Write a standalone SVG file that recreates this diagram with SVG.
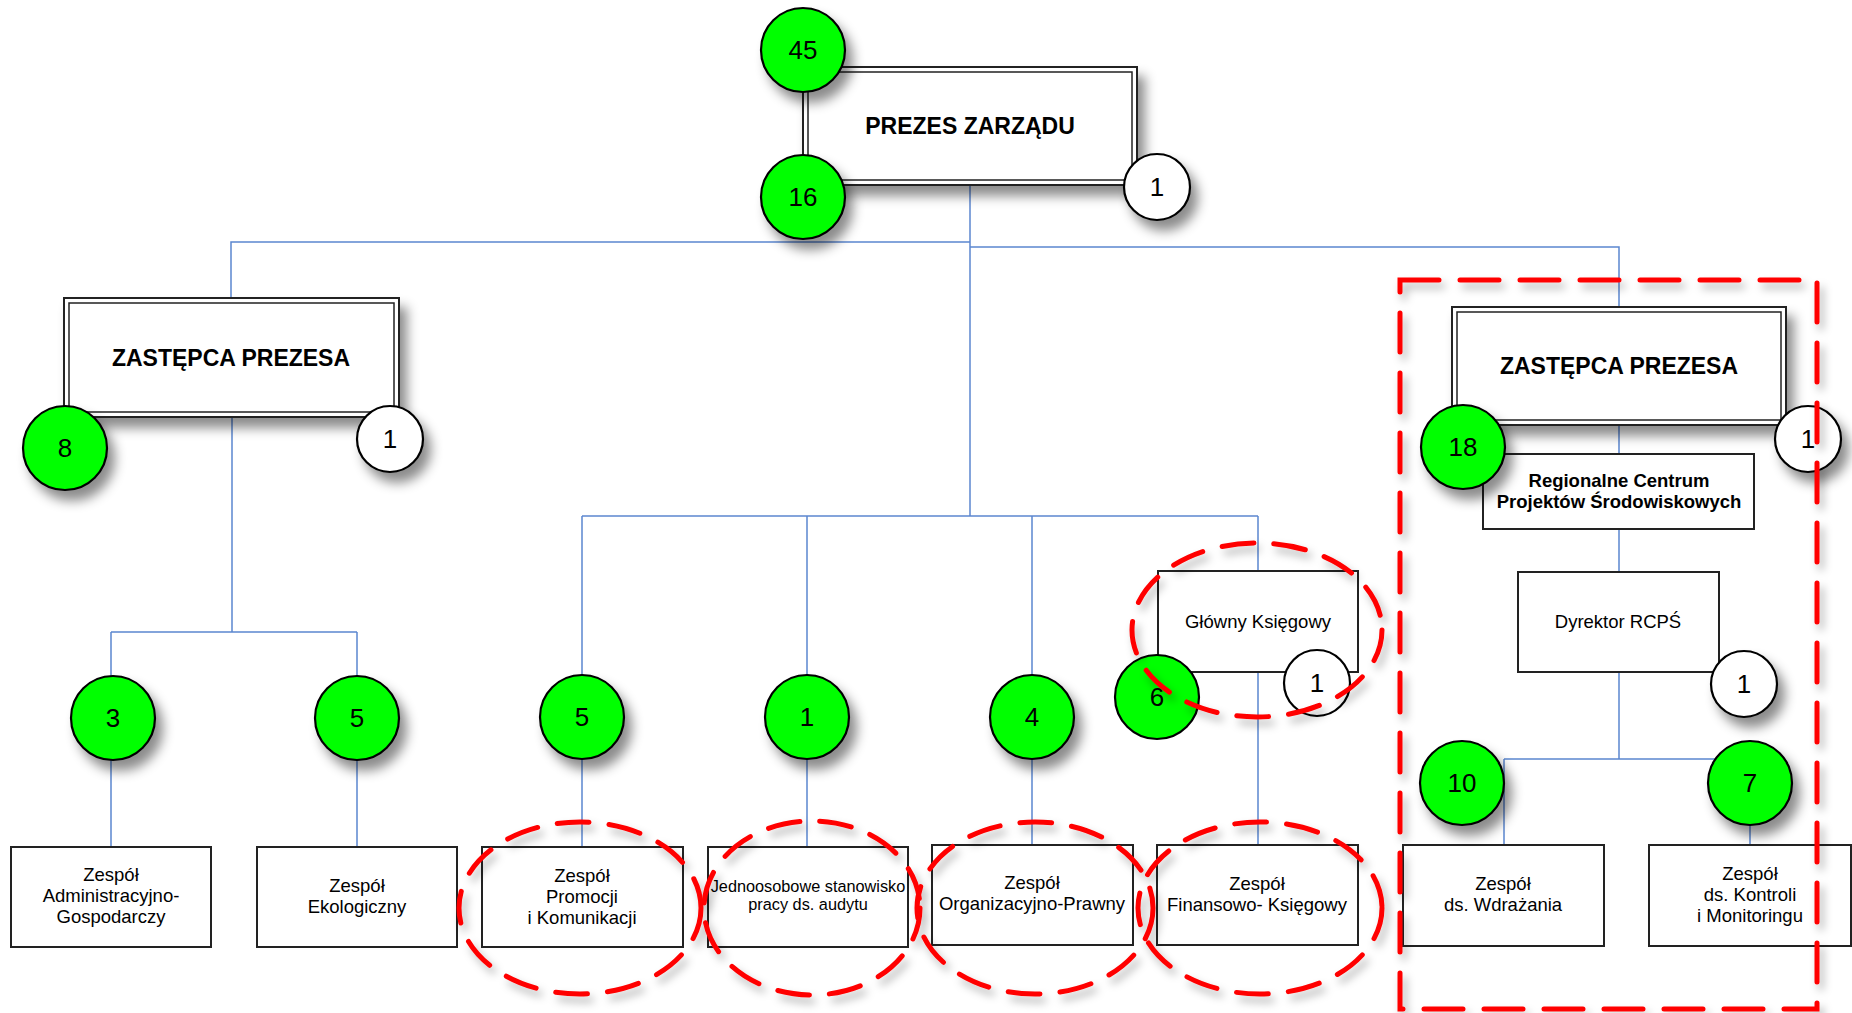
<svg xmlns="http://www.w3.org/2000/svg" width="1852" height="1013" viewBox="0 0 1852 1013">
<defs>
<filter id="sh" x="-30%" y="-30%" width="170%" height="170%">
<feDropShadow dx="7" dy="10" stdDeviation="6" flood-color="#000" flood-opacity="0.45"/>
</filter>
<filter id="shs" x="-30%" y="-30%" width="170%" height="170%">
<feDropShadow dx="4" dy="6" stdDeviation="4" flood-color="#000" flood-opacity="0.3"/>
</filter>
</defs>
<style>
.bg{fill:#fff}
.c{fill:none;stroke:#5b86cf;stroke-width:1.5}
.ob{fill:#fff;stroke:#222;stroke-width:2}
.ib{fill:none;stroke:#222;stroke-width:1.5}
.sb{fill:#fff;stroke:#222;stroke-width:2}
.g{fill:#00ff00;stroke:#000;stroke-width:2.2}
.w{fill:#fff;stroke:#000;stroke-width:2.2}
.num{font-family:"Liberation Sans",Arial,sans-serif;font-size:26px;text-anchor:middle;fill:#000}
.tb{font-family:"Liberation Sans",Arial,sans-serif;font-size:23px;font-weight:bold;text-anchor:middle;fill:#000}
.tbs{font-family:"Liberation Sans",Arial,sans-serif;font-size:18.5px;font-weight:bold;text-anchor:middle;fill:#000}
.t{font-family:"Liberation Sans",Arial,sans-serif;font-size:18.5px;text-anchor:middle;fill:#000}
.ts{font-family:"Liberation Sans",Arial,sans-serif;font-size:16.3px;text-anchor:middle;fill:#000}
.red{fill:none;stroke:#ff0000;stroke-width:5;stroke-linecap:round}
.re{stroke-dasharray:32 20}
.rr{stroke-dasharray:39 21}
</style>
<rect class="bg" x="0" y="0" width="1852" height="1013"/>

<g id="connectors">
<path class="c" d="M970 185V516"/>
<path class="c" d="M970 242H231V298"/>
<path class="c" d="M970 247H1619V307"/>
<path class="c" d="M582 516H1258"/>
<path class="c" d="M582 516V847M807 516V847M1032 516V845"/>
<path class="c" d="M1258 516V571M1258 672V845"/>
<path class="c" d="M232 417V632M111 632H357M111 632V847M357 632V847"/>
<path class="c" d="M1619 425V454M1619 529V572M1619 672V759M1504 759H1750M1504 759V845M1750 759V845"/>
</g>

<g id="node-prezes">
<g filter="url(#sh)"><rect class="ob" x="803" y="67" width="334" height="118"/></g>
<rect class="ib" x="808" y="72" width="324" height="108"/>
<text class="tb" x="970" y="134">PREZES ZARZĄDU</text>
</g>

<g id="node-zastepca-left">
<g filter="url(#sh)"><rect class="ob" x="64" y="298" width="335" height="119"/></g>
<rect class="ib" x="69" y="303" width="325" height="109"/>
<text class="tb" x="231" y="366">ZASTĘPCA PREZESA</text>
</g>

<g id="node-zastepca-right">
<g filter="url(#sh)"><rect class="ob" x="1452" y="307" width="334" height="118"/></g>
<rect class="ib" x="1457" y="312" width="324" height="108"/>
<text class="tb" x="1619" y="374">ZASTĘPCA PREZESA</text>
</g>

<g id="node-rcps">
<rect class="sb" x="1483" y="454" width="271" height="75"/>
<text class="tbs" x="1619" y="487">Regionalne Centrum</text>
<text class="tbs" x="1619" y="508">Projektów Środowiskowych</text>
</g>

<g id="node-glowny">
<rect class="sb" x="1158" y="571" width="200" height="101"/>
<text class="t" x="1258" y="628">Główny Księgowy</text>
</g>

<g id="node-dyrektor">
<rect class="sb" x="1518" y="572" width="201" height="100"/>
<text class="t" x="1618" y="628">Dyrektor RCPŚ</text>
</g>

<g id="node-admin">
<rect class="sb" x="11" y="847" width="200" height="100"/>
<text class="t" x="111" y="881">Zespół</text>
<text class="t" x="111" y="902">Administracyjno-</text>
<text class="t" x="111" y="923">Gospodarczy</text>
</g>

<g id="node-eko">
<rect class="sb" x="257" y="847" width="200" height="100"/>
<text class="t" x="357" y="892">Zespół</text>
<text class="t" x="357" y="913">Ekologiczny</text>
</g>

<g id="node-promocji">
<rect class="sb" x="482" y="847" width="201" height="100"/>
<text class="t" x="582" y="882">Zespół</text>
<text class="t" x="582" y="903">Promocji</text>
<text class="t" x="582" y="924">i Komunikacji</text>
</g>

<g id="node-audyt">
<rect class="sb" x="708" y="847" width="200" height="100"/>
<text class="ts" x="808" y="892">Jednoosobowe stanowisko</text>
<text class="ts" x="808" y="910">pracy ds. audytu</text>
</g>

<g id="node-organizacyjno">
<rect class="sb" x="932" y="845" width="201" height="100"/>
<text class="t" x="1032" y="889">Zespół</text>
<text class="t" x="1032" y="910">Organizacyjno-Prawny</text>
</g>

<g id="node-finansowo">
<rect class="sb" x="1157" y="845" width="201" height="100"/>
<text class="t" x="1257" y="890">Zespół</text>
<text class="t" x="1257" y="911">Finansowo- Księgowy</text>
</g>

<g id="node-wdrazania">
<rect class="sb" x="1403" y="845" width="201" height="101"/>
<text class="t" x="1503" y="890">Zespół</text>
<text class="t" x="1503" y="911">ds. Wdrażania</text>
</g>

<g id="node-kontroli">
<rect class="sb" x="1649" y="845" width="202" height="101"/>
<text class="t" x="1750" y="880">Zespół</text>
<text class="t" x="1750" y="901">ds. Kontroli</text>
<text class="t" x="1750" y="922">i Monitoringu</text>
</g>

<g id="badges">
<g id="b45"><circle class="g" cx="803" cy="50" r="42" filter="url(#sh)"/><text class="num" x="803" y="59">45</text></g>
<g id="b16"><circle class="g" cx="803" cy="197" r="42" filter="url(#sh)"/><text class="num" x="803" y="206">16</text></g>
<g id="b1a"><circle class="w" cx="1157" cy="187" r="33" filter="url(#sh)"/><text class="num" x="1157" y="196">1</text></g>
<g id="b8"><circle class="g" cx="65" cy="448" r="42" filter="url(#sh)"/><text class="num" x="65" y="457">8</text></g>
<g id="b1b"><circle class="w" cx="390" cy="439" r="33" filter="url(#sh)"/><text class="num" x="390" y="448">1</text></g>
<g id="b18"><circle class="g" cx="1463" cy="447" r="42" filter="url(#sh)"/><text class="num" x="1463" y="456">18</text></g>
<g id="b1c"><circle class="w" cx="1808" cy="439" r="33" filter="url(#sh)"/><text class="num" x="1808" y="448">1</text></g>
<g id="b3"><circle class="g" cx="113" cy="718" r="42" filter="url(#sh)"/><text class="num" x="113" y="727">3</text></g>
<g id="b5a"><circle class="g" cx="357" cy="718" r="42" filter="url(#sh)"/><text class="num" x="357" y="727">5</text></g>
<g id="b5b"><circle class="g" cx="582" cy="717" r="42" filter="url(#sh)"/><text class="num" x="582" y="726">5</text></g>
<g id="b1d"><circle class="g" cx="807" cy="717" r="42" filter="url(#sh)"/><text class="num" x="807" y="726">1</text></g>
<g id="b4"><circle class="g" cx="1032" cy="717" r="42" filter="url(#sh)"/><text class="num" x="1032" y="726">4</text></g>
<g id="b6"><circle class="g" cx="1157" cy="697" r="42"/><text class="num" x="1157" y="706">6</text></g>
<g id="b1e"><circle class="w" cx="1317" cy="683" r="33"/><text class="num" x="1317" y="692">1</text></g>
<g id="b1f"><circle class="w" cx="1744" cy="684" r="33" filter="url(#sh)"/><text class="num" x="1744" y="693">1</text></g>
<g id="b10"><circle class="g" cx="1462" cy="783" r="42" filter="url(#sh)"/><text class="num" x="1462" y="792">10</text></g>
<g id="b7"><circle class="g" cx="1750" cy="783" r="42" filter="url(#sh)"/><text class="num" x="1750" y="792">7</text></g>
</g>

<g id="highlights" filter="url(#shs)">
<ellipse class="red re" cx="1257" cy="630" rx="125" ry="87"/>
<ellipse class="red re" cx="580" cy="908" rx="121" ry="86"/>
<ellipse class="red re" cx="812" cy="908" rx="108" ry="87"/>
<ellipse class="red re" cx="1035" cy="908" rx="118" ry="86"/>
<ellipse class="red re" cx="1260" cy="908" rx="122" ry="86"/>
<rect class="red rr" x="1400" y="280" width="417" height="729"/>
</g>
</svg>
